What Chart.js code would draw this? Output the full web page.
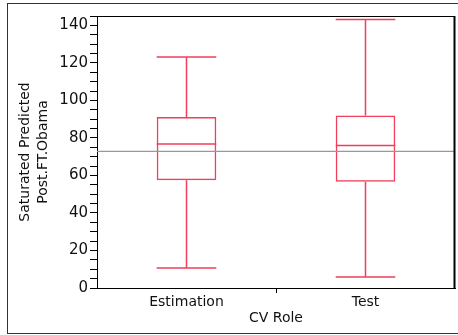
<!DOCTYPE html>
<html>
<head>
<meta charset="utf-8">
<script src="https://cdn.jsdelivr.net/npm/chart.js@4.4.1/dist/chart.umd.min.js"></script>
<style>
  body { margin: 0; background: #fff; }
  #frame { position: absolute; left: 7px; top: 3px; width: 460px; height: 329px; border: 1px solid #333; border-right: none; }
  #wrap { position: absolute; left: 0; top: 0; width: 458px; height: 335px; }
</style>
</head>
<body>
<div id="frame"></div>
<div id="wrap"><canvas id="Obama"></canvas></div>
<script>
var roles = ["Estimation", "Test"];
var minValues = [10.7, 5.9];
var q1Values = [57.4, 56.7];
var medianValues = [76.7, 76.0];
var q3Values = [91.2, 91.9];
var maxValues = [123.1, 143.1];
var meanLine = 72.8;

var boxColor = "rgb(240, 62, 92)";

// whiskers, caps, median and the overall mean line
const boxPlugin = {
  id: "boxPlugin",
  afterDatasetsDraw(chart) {
    const ctx = chart.ctx;
    const y = chart.scales.y;
    const area = chart.chartArea;
    const bars = chart.getDatasetMeta(0).data;

    ctx.save();
    ctx.strokeStyle = "#999";
    ctx.lineWidth = 1.2;
    const my = y.getPixelForValue(meanLine);
    ctx.beginPath();
    ctx.moveTo(area.left, my);
    ctx.lineTo(area.right, my);
    ctx.stroke();

    ctx.strokeStyle = boxColor;
    ctx.lineWidth = 1.5;
    bars.forEach(function (bar, i) {
      const half = bar.width / 2;
      const l = bar.x - half, r = bar.x + half;
      const pMin = y.getPixelForValue(minValues[i]);
      const pMax = y.getPixelForValue(maxValues[i]);
      const pQ1 = y.getPixelForValue(q1Values[i]);
      const pQ3 = y.getPixelForValue(q3Values[i]);
      const pMed = y.getPixelForValue(medianValues[i]);
      ctx.beginPath();
      ctx.moveTo(bar.x, pQ3); ctx.lineTo(bar.x, pMax);
      ctx.moveTo(bar.x, pQ1); ctx.lineTo(bar.x, pMin);
      ctx.moveTo(l, pMax); ctx.lineTo(r, pMax);
      ctx.moveTo(l, pMin); ctx.lineTo(r, pMin);
      ctx.moveTo(l, pMed); ctx.lineTo(r, pMed);
      ctx.stroke();
    });

    // plot frame
    ctx.strokeStyle = "#000";
    ctx.lineWidth = 1;
    ctx.beginPath();
    ctx.moveTo(area.left, area.top + 0.5);
    ctx.lineTo(area.right, area.top + 0.5);
    ctx.stroke();
    ctx.lineWidth = 2;
    ctx.beginPath();
    ctx.moveTo(area.right - 0.5, area.top);
    ctx.lineTo(area.right - 0.5, area.bottom);
    ctx.stroke();
    ctx.restore();
  }
};

new Chart("Obama", {
  type: "bar",
  data: {
    labels: roles,
    datasets: [{
      data: roles.map(function (r, i) { return [q1Values[i], q3Values[i]]; }),
      backgroundColor: "rgba(255,255,255,0)",
      borderColor: boxColor,
      borderWidth: 1.5,
      borderSkipped: false,
      categoryPercentage: 1,
      barPercentage: 0.333
    }]
  },
  options: {
    responsive: true,
    maintainAspectRatio: false,
    animation: false,
    layout: { padding: { left: 0, top: 16, right: 3, bottom: 0 } },
    plugins: {
      legend: { display: false },
      tooltip: { enabled: false }
    },
    scales: {
      x: {
        offset: true,
        afterFit: function (s) { s.height = 47; },
        grid: {
          offset: true,
          drawOnChartArea: false,
          tickLength: 5,
          color: function (c) { return c.index === 1 ? "#000" : "rgba(0,0,0,0)"; }
        },
        border: { color: "#000", width: 1 },
        ticks: { color: "#111", padding: 1, font: { family: "DejaVu Sans", size: 14 } },
        title: {
          display: true,
          text: "CV Role",
          color: "#111",
          font: { family: "DejaVu Sans", size: 14 },
          padding: { top: 0, bottom: 8 }
        }
      },
      y: {
        min: 0,
        max: 145,
        afterFit: function (s) { s.width = 97; },
        grid: { drawOnChartArea: false, tickLength: 7, color: "#000" },
        border: { color: "#000", width: 1 },
        ticks: {
          stepSize: 5,
          autoSkip: false,
          color: "#111",
          padding: 2,
          font: { family: "DejaVu Sans", size: 15 },
          callback: function (v) { return v % 20 === 0 ? v : ""; }
        },
        title: {
          display: true,
          text: ["Saturated Predicted", "Post.FT.Obama"],
          color: "#111",
          font: { family: "DejaVu Sans", size: 14, lineHeight: 1.29 },
          padding: { top: 16, bottom: 0 }
        }
      }
    }
  },
  plugins: [boxPlugin]
});
</script>
</body>
</html>
